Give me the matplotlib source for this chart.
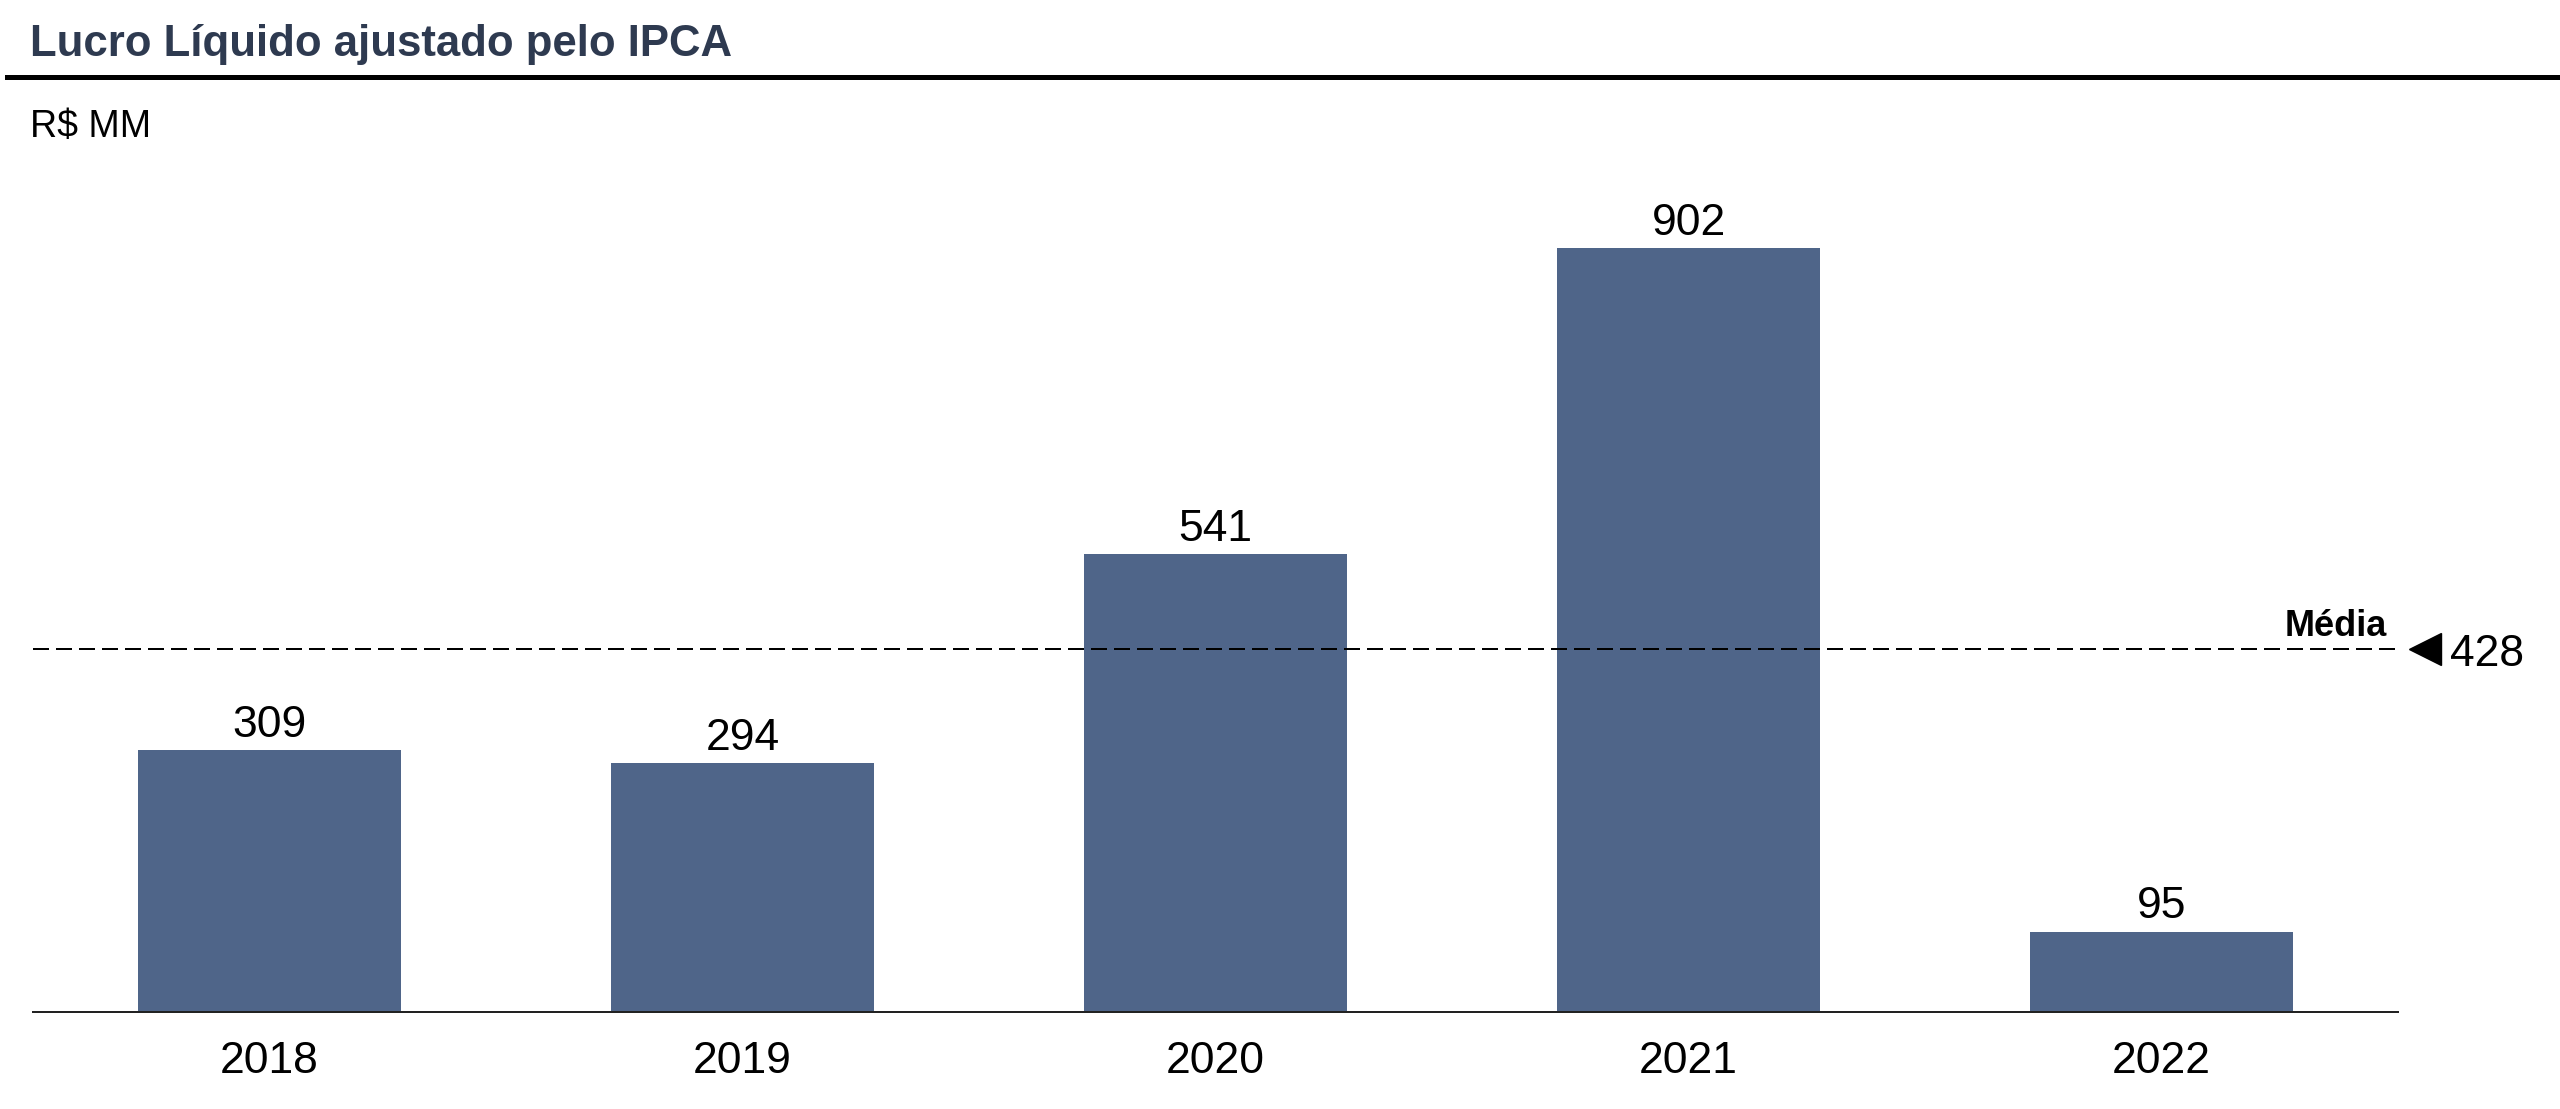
import matplotlib
matplotlib.use("Agg")
import matplotlib.pyplot as plt
import numpy as np

plt.rcParams['font.family'] = ['Liberation Sans', 'DejaVu Sans']

years = ["2018", "2019", "2020", "2021", "2022"]
lucro = [309, 294, 541, 902, 95]
media = 428

title = "Lucro Líquido ajustado pelo IPCA"
unit = "R$ MM"
media_label = "Média"

W, H = 2560, 1109
fig = plt.figure(figsize=(W / 100, H / 100), dpi=100)
ax = fig.add_axes([33 / W, 97 / H, (2398 - 33) / W, 847 / H])

bar_color = "#4F6589"
x = np.arange(len(years))
ax.bar(x, lucro, width=0.555, color=bar_color, zorder=2)
ax.set_xlim(-0.5, 4.5)
ax.set_ylim(0, 1000)

for xi, v in zip(x, lucro):
    ax.annotate(f"{v}", (xi, v), xytext=(0, 9.4), textcoords="offset points",
                ha="center", va="baseline", fontsize=32, color="black")

ax.axhline(media, color="black", lw=1.44, linestyle=(0, (8, 3.5)), zorder=3)
ax.annotate(media_label, (4.477, media), xytext=(0, 9.4), textcoords="offset points",
            ha="right", va="baseline", fontsize=26, fontweight="bold", color="black")
ax.plot([4.557], [media], marker="<", ms=23, color="black", clip_on=False, zorder=4)
ax.annotate(f"{media}", (4.61, media), xytext=(0, -12), textcoords="offset points",
            ha="left", va="baseline", fontsize=32, color="black", annotation_clip=False)

for s in ["top", "right", "left"]:
    ax.spines[s].set_visible(False)
ax.spines["bottom"].set_color("#222222")
ax.spines["bottom"].set_linewidth(1.44)
ax.set_yticks([])
ax.set_xticks(x)
ax.set_xticklabels(years, fontsize=32)
ax.tick_params(axis="x", length=0, pad=21)

fig.text(30 / W, (H - 56) / H, title, fontsize=31.5, fontweight="bold",
         color="#2E3A50", ha="left", va="baseline")
fig.add_artist(plt.Line2D([7 / W, 1.0], [(H - 76.5) / H] * 2, color="black", lw=3.6))
fig.text(30 / W, (H - 137) / H, unit, fontsize=27, color="black", ha="left", va="baseline")

fig.savefig("out.png", dpi=100)
